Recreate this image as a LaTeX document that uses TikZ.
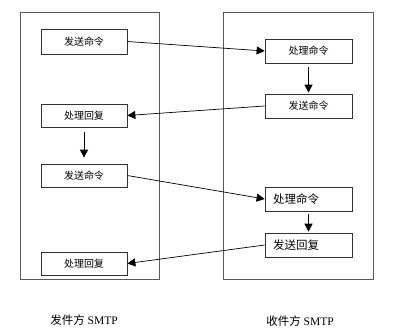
\documentclass[tikz,border=0pt]{standalone}
\usepackage{fontspec}
\setmainfont{Liberation Serif}
\newfontfamily\cjk{Noto Sans CJK SC}
\usetikzlibrary{arrows.meta}
\begin{document}
\begin{tikzpicture}[x=1pt,y=-1pt,
  frame/.style={draw=black!65,line width=0.9pt,inner sep=0pt},
  stepbox/.style={draw=black!80,line width=0.7pt,inner sep=0pt,minimum height=24pt,font=\cjk\fontsize{10}{12}\selectfont},
  leftbox/.style={stepbox,minimum width=86pt},
  rightbox/.style={stepbox,minimum width=87pt},
  bigtext/.style={stepbox,inner xsep=8pt,text width=71pt,align=left,font=\cjk\fontsize{11.5}{13}\selectfont},
  conn/.style={draw=black,line width=0.7pt,-{Triangle[length=8pt,width=8pt]}},
  caption/.style={inner sep=0pt,font=\fontsize{11.5}{13}\selectfont}]
\useasboundingbox[fill=white] (0,0) rectangle (400,332);
\node[frame,minimum width=139pt,minimum height=267pt] (sender) at (89.5,145.5) {};
\node[frame,minimum width=150pt,minimum height=267pt] (receiver) at (298,145.5) {};
\node[leftbox,minimum height=25pt] (L1) at (84,41.5) {发送命令};
\node[leftbox,minimum height=23pt] (L2) at (84,115.5) {处理回复};
\node[leftbox,minimum height=23pt] (L3) at (84,175.5) {发送命令};
\node[leftbox,minimum height=23pt] (L4) at (84,263.5) {处理回复};
\node[rightbox] (R1) at (308.5,51) {处理命令};
\node[rightbox] (R2) at (308.5,106) {发送命令};
\node[bigtext] (R3) at (308.5,199) {处理命令};
\node[bigtext] (R4) at (308.5,245) {发送回复};
\draw[conn] (L1.east) -- (R1.west);
\draw[conn] (R2.west) -- (L2.east);
\draw[conn] (L3.east) -- (R3.west);
\draw[conn] (R4.west) -- (L4.east);
\draw[conn,shorten <=5pt,shorten >=6pt] (L2.south) -- (L3.north);
\draw[conn,shorten <=4pt,shorten >=1pt] (R1.south) -- (R2.north);
\draw[conn,shorten <=3pt,shorten >=1pt] (R3.south) -- (R4.north);
\node[caption] (scap) at (84,320) {{\cjk 发件方} SMTP};
\node[caption] (rcap) at (300,321) {{\cjk 收件方} SMTP};
\end{tikzpicture}
\end{document}
